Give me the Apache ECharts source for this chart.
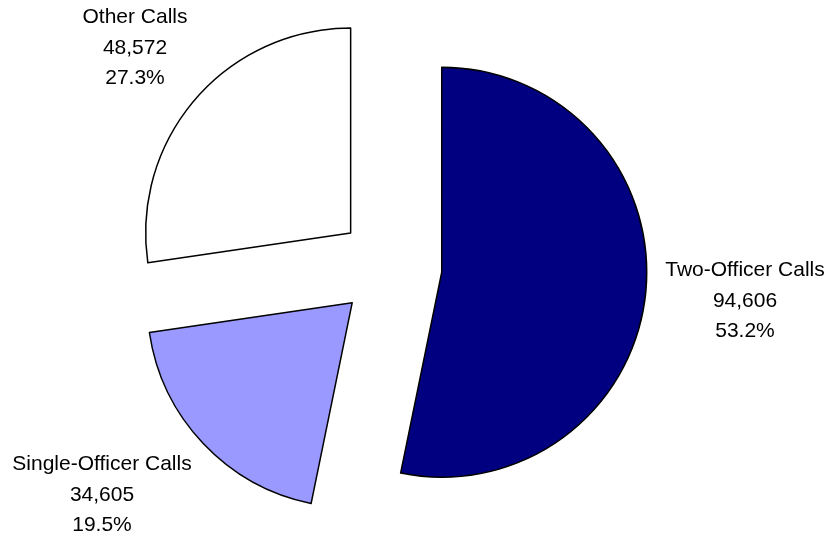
<!DOCTYPE html>
<html>
<head>
<meta charset="utf-8">
<script src="https://cdn.jsdelivr.net/npm/echarts@6/dist/echarts.min.js"></script>
<style>
html,body{margin:0;padding:0;background:#fff;}
#chart{width:836px;height:539px;}
</style>
</head>
<body>
<div id="chart"></div>
<script>
const categories = ['Two-Officer Calls', 'Single-Officer Calls', 'Other Calls'];
const callCounts = [94606, 34605, 48572];
const sliceColors = ['#000080', '#9999FF', '#FFFFFF'];

const labelAnchors = [[745, 301], [102, 495], [135, 48]];

const total = callCounts.reduce((a, b) => a + b, 0);
const labelText = i => categories[i] + '\n' + callCounts[i].toLocaleString('en-US') + '\n' +
  (callCounts[i] / total * 100).toFixed(1) + '%';

const chart = echarts.init(document.getElementById('chart'));
const data = categories.map((name, i) => ({
  name: name,
  value: callCounts[i],
  selected: true,
  itemStyle: { color: sliceColors[i], borderColor: '#000', borderWidth: 1.5 },
  select: { itemStyle: { color: sliceColors[i], borderColor: '#000', borderWidth: 1.5 } }
}));

chart.setOption({
  animation: false,
  backgroundColor: '#fff',
  graphic: categories.map((c, i) => ({
    type: 'text',
    x: labelAnchors[i][0],
    y: labelAnchors[i][1],
    style: {
      text: labelText(i),
      fill: '#000',
      font: '21px "Liberation Sans", Arial, sans-serif',
      lineHeight: 30.5,
      align: 'center',
      verticalAlign: 'middle'
    }
  })),
  series: [{
    type: 'pie',
    center: [390, 267],
    radius: 205,
    startAngle: 90,
    clockwise: true,
    selectedMode: 'multiple',
    selectedOffset: 52,
    emphasis: { disabled: true },
    label: { show: false },
    labelLine: { show: false },
    data: data
  }]
});
</script>
</body>
</html>
